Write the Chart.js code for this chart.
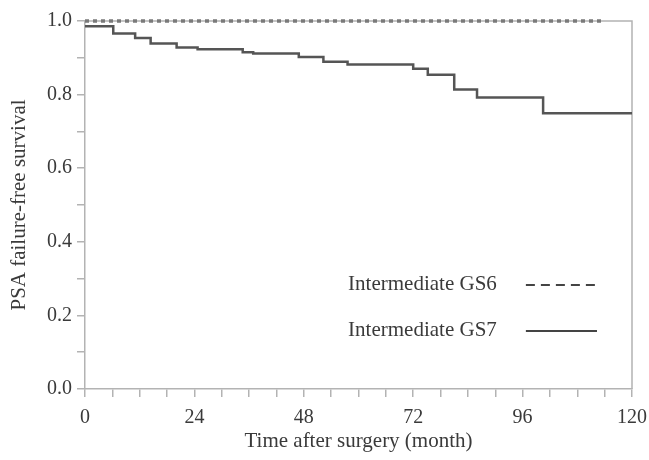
<!DOCTYPE html>
<html>
<head>
<meta charset="utf-8">
<script src="https://cdn.jsdelivr.net/npm/chart.js@4"></script>
<style>
  html, body { margin: 0; padding: 0; background: #fff; }
  #wrap { width: 649px; height: 460px; }
</style>
</head>
<body>
<div id="wrap"><canvas id="c" width="649" height="460"></canvas></div>
<script>
// ---- data ----
const seriesLabels = ['Intermediate GS6', 'Intermediate GS7'];
const monthsGS6 = [0, 114];
const survGS6 = [1.0, 1.0];
const monthsGS7 = [0, 6.2, 11.0, 14.4, 20.1, 24.7, 34.6, 36.9, 46.9, 52.3, 57.6, 72.0, 75.2, 81.0, 86.0, 100.5, 120];
const survGS7 = [0.986, 0.966, 0.954, 0.939, 0.928, 0.923, 0.915, 0.912, 0.902, 0.889, 0.882, 0.870, 0.854, 0.814, 0.792, 0.749, 0.749];
const xLabeledTicks = [0, 24, 48, 72, 96, 120];
const yLabeledTicks = [0.0, 0.2, 0.4, 0.6, 0.8, 1.0];

const FONT = "'Liberation Serif', 'DejaVu Serif', serif";
const TEXT = '#3a3a3a';
const AXIS = '#b3b3b3';

const toPts = (xs, ys) => xs.map((x, i) => ({ x: x, y: ys[i] }));

const framePlugin = {
  id: 'frame',
  beforeDatasetsDraw(chart) {
    const { ctx, chartArea: a } = chart;
    ctx.save();
    ctx.strokeStyle = AXIS;
    ctx.lineWidth = 1.5;
    ctx.beginPath();
    ctx.moveTo(a.left, a.top);
    ctx.lineTo(a.right, a.top);
    ctx.lineTo(a.right, a.bottom);
    ctx.stroke();
    ctx.restore();
  }
};

const legendPlugin = {
  id: 'innerLegend',
  afterDraw(chart) {
    const { ctx, chartArea: a } = chart;
    const w = a.right - a.left, h = a.bottom - a.top;
    const rows = [0.715, 0.84];
    const dashes = [[9, 6], []];
    ctx.save();
    ctx.font = '21px ' + FONT;
    ctx.fillStyle = TEXT;
    ctx.textBaseline = 'middle';
    ctx.textAlign = 'left';
    chart.data.datasets.forEach((ds, i) => {
      const y = a.top + rows[i] * h;
      ctx.fillText(ds.label, a.left + 0.481 * w, y);
      ctx.strokeStyle = '#444';
      ctx.lineWidth = 2;
      ctx.setLineDash(dashes[i]);
      ctx.beginPath();
      ctx.moveTo(a.left + 0.806 * w, y + 1);
      ctx.lineTo(a.left + 0.936 * w, y + 1);
      ctx.stroke();
    });
    ctx.restore();
  }
};

new Chart(document.getElementById('c'), {
  type: 'line',
  data: {
    datasets: [
      {
        label: seriesLabels[0],
        data: toPts(monthsGS6, survGS6),
        borderColor: '#7a7a7a',
        borderWidth: 3.5,
        borderDash: [4, 4],
        pointRadius: 0,
        stepped: true,
        clip: 8
      },
      {
        label: seriesLabels[1],
        data: toPts(monthsGS7, survGS7),
        borderColor: '#555555',
        borderWidth: 2.5,
        pointRadius: 0,
        stepped: true,
        clip: 8
      }
    ]
  },
  options: {
    responsive: false,
    animation: false,
    devicePixelRatio: 1,
    layout: { autoPadding: false, padding: { top: 21, right: 17, left: 0, bottom: 0 } },
    plugins: { legend: { display: false }, tooltip: { enabled: false } },
    scales: {
      x: {
        type: 'linear',
        min: 0, max: 120,
        afterFit(s) { s.height = 71; s.paddingLeft = 0; s.paddingRight = 0; },
        ticks: {
          stepSize: 6,
          autoSkip: false,
          maxRotation: 0,
          padding: 9,
          color: TEXT,
          font: { family: FONT, size: 20 },
          callback: v => xLabeledTicks.includes(v) ? String(v) : ''
        },
        grid: { display: true, drawOnChartArea: false, drawTicks: true, tickLength: 8, color: AXIS, lineWidth: 1.5 },
        border: { display: true, color: AXIS, width: 1.5 },
        title: { display: true, text: 'Time after surgery (month)', color: TEXT, font: { family: FONT, size: 21 }, padding: { top: 0, bottom: 6 } }
      },
      y: {
        min: 0, max: 1,
        afterFit(s) { s.width = 85; s.paddingTop = 0; s.paddingBottom = 0; },
        ticks: {
          stepSize: 0.1,
          autoSkip: false,
          padding: 5,
          color: TEXT,
          font: { family: FONT, size: 20 },
          callback: v => yLabeledTicks.some(t => Math.abs(t - v) < 1e-6) ? v.toFixed(1) : ''
        },
        grid: { display: true, drawOnChartArea: false, drawTicks: true, tickLength: 8, color: AXIS, lineWidth: 1.5 },
        border: { display: true, color: AXIS, width: 1.5 },
        title: { display: true, text: 'PSA failure-free survival', color: TEXT, font: { family: FONT, size: 21 }, padding: { top: 7, bottom: 0 } }
      }
    }
  },
  plugins: [framePlugin, legendPlugin]
});
</script>
</body>
</html>
